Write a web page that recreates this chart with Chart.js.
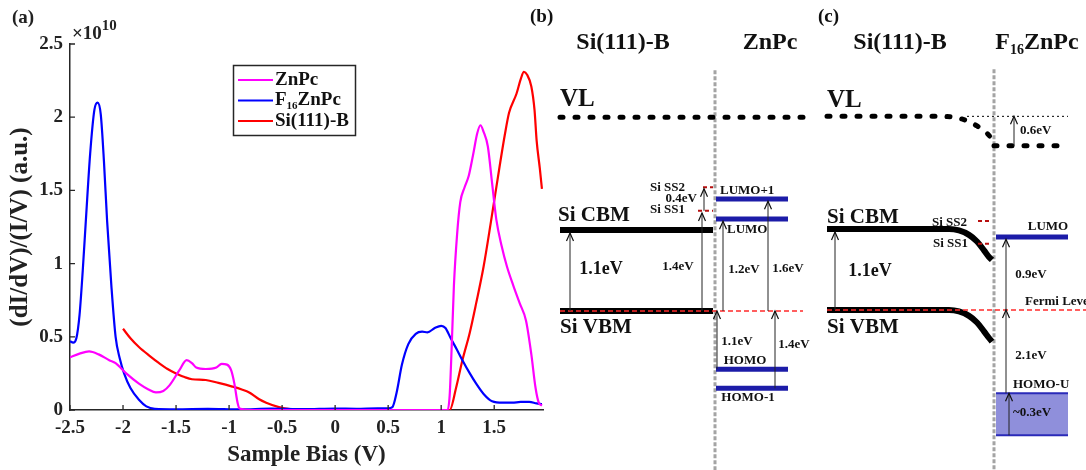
<!DOCTYPE html>
<html lang="en">
<head>
<meta charset="UTF-8">
<title>STS spectra and band alignment</title>
<script src="https://cdn.jsdelivr.net/npm/chart.js"></script>
<style>
    body { margin: 0; background: #fff; }
    #fig { position: relative; width: 1086px; height: 470px; overflow: hidden; }
    #fig canvas { position: absolute; top: 0; }
    #spec { left: 0; }
    #diagB { left: 525px; }
    #diagC { left: 812px; }
</style>
</head>
<body>
<div id="fig">
    <canvas id="spec" width="550" height="470"></canvas>
    <canvas id="diagB" width="290" height="470"></canvas>
    <canvas id="diagC" width="274" height="470"></canvas>
</div>
<script>
// ---- (a) normalised conductance, units of 1e10 ----
const biasTicks = [-2.5, -2, -1.5, -1, -0.5, 0, 0.5, 1, 1.5];
const ndcTicks = [0, 0.5, 1, 1.5, 2, 2.5];

const znpcV = [-2.5, -2.41, -2.32, -2.23, -2.13, -2.07, -1.97, -1.85, -1.76, -1.69, -1.62, -1.56, -1.47, -1.40, -1.35, -1.31, -1.22, -1.12, -1.07, -1.02, -0.98, -0.95, -0.92, -0.90, -0.8, -0.5, 0, 0.5, 0.9, 1.06, 1.08, 1.10, 1.12, 1.15, 1.18, 1.22, 1.26, 1.30, 1.34, 1.37, 1.40, 1.44, 1.48, 1.52, 1.57, 1.62, 1.68, 1.74, 1.80, 1.85, 1.89, 1.92, 1.95];
const znpcS = [0.36, 0.385, 0.40, 0.38, 0.34, 0.32, 0.25, 0.18, 0.14, 0.12, 0.13, 0.17, 0.27, 0.34, 0.32, 0.29, 0.28, 0.29, 0.315, 0.31, 0.27, 0.18, 0.05, 0.01, 0, 0, 0, 0, 0, 0, 0.1, 0.45, 0.85, 1.2, 1.42, 1.52, 1.60, 1.74, 1.89, 1.945, 1.90, 1.80, 1.55, 1.30, 1.12, 0.98, 0.85, 0.73, 0.61, 0.38, 0.15, 0.05, 0.03];

const f16V = [-2.5, -2.47, -2.44, -2.41, -2.38, -2.35, -2.31, -2.27, -2.24, -2.21, -2.18, -2.15, -2.11, -2.07, -2.03, -1.99, -1.93, -1.85, -1.78, -1.70, -1.5, -1.2, -0.9, -0.6, -0.3, 0, 0.2, 0.4, 0.5, 0.54, 0.58, 0.63, 0.69, 0.76, 0.82, 0.87, 0.94, 1.00, 1.04, 1.09, 1.15, 1.20, 1.27, 1.33, 1.40, 1.48, 1.58, 1.67, 1.75, 1.83, 1.90, 1.95];
const f16S = [0.47, 0.46, 0.49, 0.65, 0.95, 1.30, 1.75, 2.05, 2.10, 2.02, 1.70, 1.29, 0.85, 0.50, 0.35, 0.25, 0.15, 0.07, 0.025, 0.008, 0.005, 0.008, 0.004, 0.01, 0.006, 0.01, 0.008, 0.012, 0.012, 0.02, 0.12, 0.31, 0.45, 0.52, 0.535, 0.53, 0.56, 0.575, 0.56, 0.49, 0.41, 0.34, 0.25, 0.18, 0.11, 0.06, 0.05, 0.05, 0.055, 0.055, 0.045, 0.04];

const siV = [-2.0, -1.93, -1.85, -1.75, -1.66, -1.58, -1.5, -1.42, -1.35, -1.22, -1.1, -0.97, -0.88, -0.81, -0.72, -0.65, -0.53, -0.41, -0.3, 0, 0.5, 1.0, 1.08, 1.14, 1.20, 1.27, 1.33, 1.40, 1.47, 1.55, 1.60, 1.64, 1.71, 1.75, 1.78, 1.81, 1.85, 1.88, 1.90, 1.93, 1.95];
const siS = [0.555, 0.49, 0.43, 0.37, 0.32, 0.28, 0.25, 0.225, 0.21, 0.205, 0.185, 0.16, 0.14, 0.12, 0.075, 0.05, 0.02, 0.005, 0, 0, 0, 0, 0, 0.15, 0.34, 0.53, 0.73, 0.98, 1.29, 1.66, 1.88, 2.03, 2.16, 2.26, 2.31, 2.29, 2.21, 2.05, 1.84, 1.65, 1.51];

// ---- (b) Si(111)-B / ZnPc, energies in eV from E_F, x relative to interface ----
const bSiX = [-155, -2];
const bPcX = [1, 73];
const bLineX = [-155, 88];          // VL and Fermi line extent
const bVacuum = 2.63;
const bSiBands = [1.10, 0];         // CBM, VBM
const bSurfX = [-17, -12];          // left end of SS1, SS2 marks
const bSurf = [1.36, 1.68];         // Si SS1, SS2
const bPcLevels = [1.52, 1.25, -0.79, -1.05]; // LUMO+1, LUMO, HOMO, HOMO-1
const bArrows = [[-145, 0, 1.06], [-13, 0, 1.33], [-11, 1.36, 1.66], [8, 0, 1.22], [53, 0, 1.49], [2, -0.79, 0], [60, -1.05, 0]];

// ---- (c) Si(111)-B / F16ZnPc ----
const cSiX = [-167, -2];
const cPcX = [2, 74];
const cFermiX = [-167, 92];
const cVacX = [-167, -57, -44, -29, -17, -7, -2, 0];
const cVacY = [2.63, 2.63, 2.625, 2.58, 2.50, 2.40, 2.31, 2.23];
const cVacPc = 2.23;
const cVacRefX = [-27, 74];
const cBendX = [-167, -45, -35, -25, -17, -10, -5, -2];
const cCbmY = [1.10, 1.10, 1.08, 1.02, 0.93, 0.81, 0.72, 0.68];
const cVbmY = [0, 0, -0.02, -0.08, -0.17, -0.29, -0.38, -0.43];
const cSurfX = [-16, -16];
const cSurf = [0.90, 1.21];
const cLumo = 0.99;
const cHomoBand = [-1.13, -1.70];
const cArrows = [[-159, 0, 1.06], [12, 0, 0.96], [12, -1.13, 0], [15, -1.70, -1.13], [20, 2.23, 2.63]];

const ifaceY = [3.27, -2.3];

Chart.defaults.font.family = '"Liberation Serif", "Times New Roman", serif';
Chart.defaults.font.weight = 'bold';
Chart.defaults.color = '#222';
Chart.defaults.animation = false;
Chart.defaults.events = [];
Chart.defaults.elements.point.radius = 0;
Chart.defaults.plugins.legend.display = false;
Chart.defaults.plugins.tooltip.enabled = false;

const pairs = (xs, ys) => xs.map((x, i) => ({x: x, y: ys[i]}));

// text with _{sub} and ^{sup}
function richText(ctx, str, x, y, size, align) {
    const parts = [];
    const re = /([_^])\{([^}]*)\}/g;
    let last = 0, m;
    while ((m = re.exec(str))) {
        if (m.index > last) parts.push({t: str.slice(last, m.index), k: ''});
        parts.push({t: m[2], k: m[1]});
        last = re.lastIndex;
    }
    if (last < str.length) parts.push({t: str.slice(last), k: ''});
    const fontFor = k => 'bold ' + Math.round(k === '_' ? size * 0.58 : k === '^' ? size * 0.78 : size) + 'px "Liberation Serif"';
    let w = 0;
    parts.forEach(p => { ctx.font = fontFor(p.k); p.w = ctx.measureText(p.t).width; w += p.w; });
    let cx = align === 'center' ? x - w / 2 : align === 'right' ? x - w : x;
    ctx.textAlign = 'left';
    ctx.textBaseline = 'middle';
    parts.forEach(p => {
        ctx.font = fontFor(p.k);
        const dy = p.k === '_' ? size * 0.3 : p.k === '^' ? -size * 0.42 : 0;
        ctx.fillText(p.t, cx, y + dy);
        cx += p.w;
    });
}

// inward ticks, legend box, exponent and panel tag for (a)
const specDecor = {
    id: 'specDecor',
    afterDatasetsDraw(chart) {
        const {ctx, chartArea: a, scales} = chart;
        ctx.save();
        ctx.strokeStyle = '#262626';
        ctx.lineWidth = 1.3;
        ctx.beginPath();
        scales.x.ticks.forEach(t => {
            const p = scales.x.getPixelForValue(t.value);
            ctx.moveTo(p, a.bottom); ctx.lineTo(p, a.bottom - 5);
        });
        scales.y.ticks.forEach(t => {
            const p = scales.y.getPixelForValue(t.value);
            ctx.moveTo(a.left, p); ctx.lineTo(a.left + 5, p);
        });
        ctx.stroke();

        const lx = 233, ly = 65, lw = 122, lh = 70;
        ctx.fillStyle = '#fff';
        ctx.fillRect(lx, ly, lw, lh);
        ctx.lineWidth = 1.5;
        ctx.strokeRect(lx + 0.5, ly + 0.5, lw, lh);
        chart.data.datasets.forEach((ds, i) => {
            const yy = ly + 15 + i * 20.5;
            ctx.strokeStyle = ds.borderColor;
            ctx.lineWidth = 2.2;
            ctx.beginPath(); ctx.moveTo(lx + 5, yy); ctx.lineTo(lx + 40, yy); ctx.stroke();
            ctx.fillStyle = '#111';
            richText(ctx, ds.label, lx + 42, yy, 19, 'left');
        });

        ctx.fillStyle = '#222';
        richText(ctx, '\u00d710^{10}', a.left + 2, a.top - 10, 19, 'left');
        richText(ctx, '(a)', 12, 18, 19, 'left');
        ctx.restore();
    }
};

new Chart(document.getElementById('spec'), {
    type: 'line',
    data: {
        datasets: [
            {label: 'ZnPc', data: pairs(znpcV, znpcS), borderColor: '#ff00ff'},
            {label: 'F_{16}ZnPc', data: pairs(f16V, f16S), borderColor: '#0000ff'},
            {label: 'Si(111)-B', data: pairs(siV, siS), borderColor: '#ff0000'}
        ]
    },
    options: {
        responsive: false,
        layout: {padding: {top: 44, right: 7, left: 0, bottom: 0}},
        datasets: {line: {borderWidth: 2.2, cubicInterpolationMode: 'monotone', fill: false}},
        scales: {
            x: {
                type: 'linear', min: -2.5, max: 1.96,
                afterBuildTicks: s => { s.ticks = biasTicks.map(v => ({value: v})); },
                afterFit: s => { s.height = 60; },
                grid: {drawOnChartArea: false, drawTicks: false},
                border: {color: '#262626', width: 1.5},
                ticks: {font: {size: 19, weight: 'bold'}, color: '#222', padding: 7, maxRotation: 0, callback: v => String(v)},
                title: {display: true, text: 'Sample Bias (V)', font: {size: 23, weight: 'bold'}, color: '#222', padding: {top: 0, bottom: 1}}
            },
            y: {
                type: 'linear', min: 0, max: 2.5,
                afterBuildTicks: s => { s.ticks = ndcTicks.map(v => ({value: v})); },
                afterFit: s => { s.width = 70; },
                grid: {drawOnChartArea: false, drawTicks: false},
                border: {color: '#262626', width: 1.5},
                ticks: {font: {size: 19, weight: 'bold'}, color: '#222', padding: 7, callback: v => String(v)},
                title: {display: true, text: '(dI/dV)/(I/V) (a.u.)', font: {size: 25, weight: 'bold'}, color: '#222', padding: {top: 6, bottom: 0}}
            }
        }
    },
    plugins: [specDecor]
});

// ---- band diagrams ----
const seg = (xs, ys, style) => Object.assign({data: pairs(xs, ys), fill: false, tension: 0}, style);

const shaftStyle = {borderColor: '#222', borderWidth: 1};
const fermiStyle = {borderColor: '#ff2a2a', borderWidth: 1.5, borderDash: [5, 3]};
const ssStyle = {borderColor: '#b80f0f', borderWidth: 2, borderDash: [4, 3]};
const levelStyle = {borderColor: '#1c1ca8', borderWidth: 5};
const bandStyle = {borderColor: '#000', borderWidth: 6};
const vacStyle = {borderColor: '#000', borderWidth: 5, borderDash: [3, 12], borderCapStyle: 'round'};
const ifaceStyle = {borderColor: '#a4a4a4', borderWidth: 3, borderDash: [4, 2]};

function diagramDecor(notes, arrows) {
    return {
        id: 'diagramDecor',
        afterDatasetsDraw(chart) {
            const {ctx, scales: {x, y}} = chart;
            ctx.save();
            ctx.strokeStyle = '#111';
            ctx.lineWidth = 1.2;
            arrows.forEach(([ax, from, to]) => {
                const px = x.getPixelForValue(ax), tip = y.getPixelForValue(to);
                const dir = to > from ? 1 : -1;
                ctx.beginPath();
                ctx.moveTo(px - 3.5, tip + dir * 8);
                ctx.lineTo(px, tip);
                ctx.lineTo(px + 3.5, tip + dir * 8);
                ctx.stroke();
            });
            ctx.fillStyle = '#111';
            notes.forEach(n => richText(ctx, n.t, x.getPixelForValue(n.x), y.getPixelForValue(n.y), n.size, n.align));
            ctx.restore();
        }
    };
}

function diagram(id, datasets, xRange, yRange, notes, arrows) {
    return new Chart(document.getElementById(id), {
        type: 'line',
        data: {datasets: datasets},
        options: {
            responsive: false,
            layout: {padding: 0},
            scales: {
                x: {type: 'linear', display: false, min: xRange[0], max: xRange[1]},
                y: {type: 'linear', display: false, min: yRange[0], max: yRange[1]}
            }
        },
        plugins: [diagramDecor(notes, arrows)]
    });
}

const notesB = [
    {t: '(b)', x: -185, y: 3.99, size: 19, align: 'left'},
    {t: 'Si(111)-B', x: -92, y: 3.64, size: 24, align: 'center'},
    {t: 'ZnPc', x: 55, y: 3.64, size: 24, align: 'center'},
    {t: 'VL', x: -155, y: 2.87, size: 25, align: 'left'},
    {t: 'Si CBM', x: -157, y: 1.30, size: 21, align: 'left'},
    {t: 'Si SS2', x: -30, y: 1.68, size: 12.5, align: 'right'},
    {t: '0.4eV', x: -18, y: 1.53, size: 12.5, align: 'right'},
    {t: 'Si SS1', x: -30, y: 1.37, size: 12.5, align: 'right'},
    {t: 'LUMO+1', x: 5, y: 1.63, size: 12.5, align: 'left'},
    {t: 'LUMO', x: 12, y: 1.10, size: 12.5, align: 'left'},
    {t: '1.1eV', x: -114, y: 0.56, size: 18, align: 'center'},
    {t: '1.4eV', x: -37, y: 0.60, size: 12.5, align: 'center'},
    {t: '1.2eV', x: 29, y: 0.56, size: 12.5, align: 'center'},
    {t: '1.6eV', x: 73, y: 0.58, size: 12.5, align: 'center'},
    {t: 'Si VBM', x: -155, y: -0.23, size: 21, align: 'left'},
    {t: '1.1eV', x: 22, y: -0.42, size: 12.5, align: 'center'},
    {t: '1.4eV', x: 79, y: -0.46, size: 12.5, align: 'center'},
    {t: 'HOMO', x: 30, y: -0.68, size: 12.5, align: 'center'},
    {t: 'HOMO-1', x: 33, y: -1.18, size: 12.5, align: 'center'}
];

diagram('diagB', [
    ...bArrows.map(a => seg([a[0], a[0]], [a[1], a[2]], shaftStyle)),
    seg(bLineX, [0, 0], fermiStyle),
    ...bSurf.map((e, i) => seg([bSurfX[i], bSiX[1]], [e, e], ssStyle)),
    ...bPcLevels.map(e => seg(bPcX, [e, e], levelStyle)),
    ...bSiBands.map(e => seg(bSiX, [e, e], bandStyle)),
    seg(bLineX, [bVacuum, bVacuum], vacStyle),
    seg([0, 0], ifaceY, ifaceStyle)
], [-190, 100], [-2.159, 4.223], notesB, bArrows);

const notesC = [
    {t: '(c)', x: -176, y: 3.98, size: 19, align: 'left'},
    {t: 'Si(111)-B', x: -94, y: 3.63, size: 24, align: 'center'},
    {t: 'F_{16}ZnPc', x: 43, y: 3.63, size: 24, align: 'center'},
    {t: 'VL', x: -167, y: 2.85, size: 25, align: 'left'},
    {t: '0.6eV', x: 26, y: 2.44, size: 12.5, align: 'left'},
    {t: 'Si CBM', x: -167, y: 1.25, size: 21, align: 'left'},
    {t: 'Si SS2', x: -27, y: 1.18, size: 12.5, align: 'right'},
    {t: 'LUMO', x: 54, y: 1.13, size: 12.5, align: 'center'},
    {t: 'Si SS1', x: -26, y: 0.90, size: 12.5, align: 'right'},
    {t: '1.1eV', x: -124, y: 0.52, size: 18, align: 'center'},
    {t: '0.9eV', x: 37, y: 0.48, size: 12.5, align: 'center'},
    {t: 'Fermi Level', x: 31, y: 0.12, size: 12.5, align: 'left'},
    {t: 'Si VBM', x: -167, y: -0.24, size: 21, align: 'left'},
    {t: '2.1eV', x: 37, y: -0.62, size: 12.5, align: 'center'},
    {t: 'HOMO-U', x: 19, y: -1.02, size: 12.5, align: 'left'},
    {t: '~0.3eV', x: 19, y: -1.40, size: 12.5, align: 'left'}
];

diagram('diagC', [
    ...cArrows.map(a => seg([a[0], a[0]], [a[1], a[2]], shaftStyle)),
    seg(cFermiX, [0, 0], fermiStyle),
    ...cSurf.map((e, i) => seg([cSurfX[i], cSiX[1]], [e, e], ssStyle)),
    seg(cPcX, [cLumo, cLumo], levelStyle),
    seg(cPcX, [cHomoBand[1], cHomoBand[1]], {borderColor: '#2a2ab8', borderWidth: 2}),
    seg(cPcX, [cHomoBand[0], cHomoBand[0]], {borderColor: '#2a2ab8', borderWidth: 2, backgroundColor: '#8f8fdb', fill: {value: cHomoBand[1]}}),
    seg(cBendX, cCbmY, Object.assign({cubicInterpolationMode: 'monotone'}, bandStyle)),
    seg(cBendX, cVbmY, Object.assign({cubicInterpolationMode: 'monotone'}, bandStyle)),
    seg(cVacRefX, [cVacY[0], cVacY[0]], {borderColor: '#000', borderWidth: 1, borderDash: [2, 3]}),
    seg(cVacX, cVacY, Object.assign({cubicInterpolationMode: 'monotone'}, vacStyle)),
    seg([0, cPcX[1]], [cVacPc, cVacPc], vacStyle),
    seg([0, 0], ifaceY, ifaceStyle)
], [-182, 92], [-2.173, 4.210], notesC, cArrows);
</script>
</body>
</html>
